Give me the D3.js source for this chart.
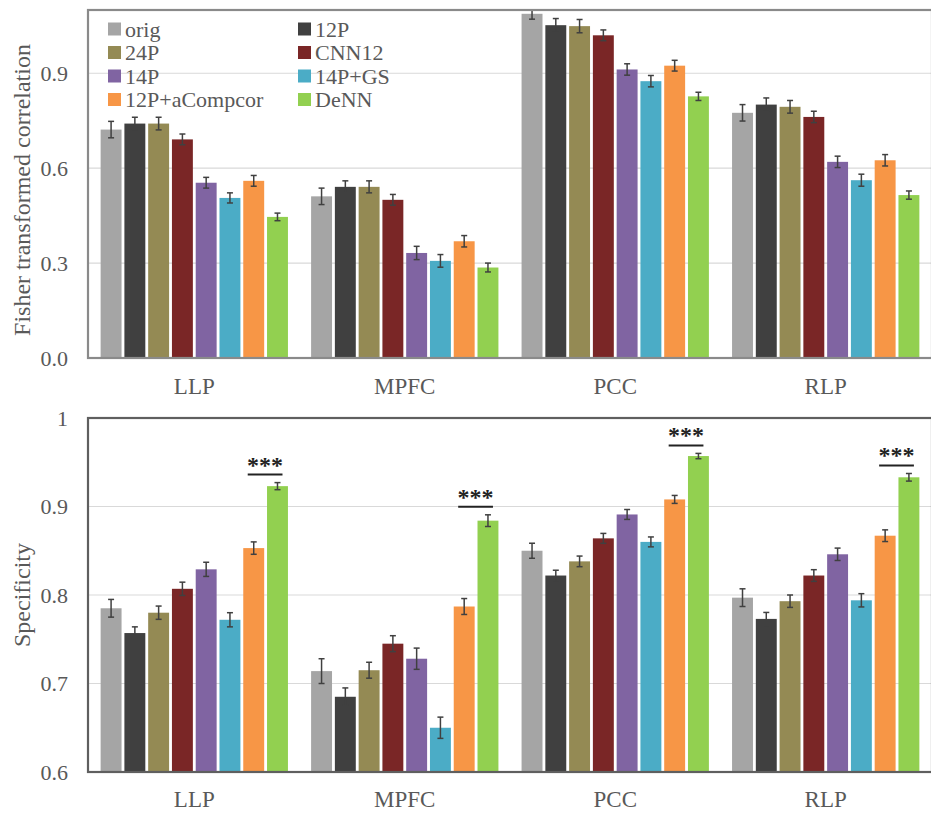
<!DOCTYPE html>
<html>
<head>
<meta charset="utf-8">
<script src="https://cdn.jsdelivr.net/npm/d3@7"></script>
<style>
  body { margin: 0; background: #fff; }
  svg { display: block; }
  text { font-family: "Liberation Serif", "Times New Roman", serif; fill: #595959; }
</style>
</head>
<body>
<svg id="chart" width="931" height="817"></svg>
<script>
const svg = d3.select("#chart");

// ---------- DATA ----------
const categories = ["LLP", "MPFC", "PCC", "RLP"];
const series = ["orig", "12P", "24P", "CNN12", "14P", "14P+GS", "12P+aCompcor", "DeNN"];
const colors = ["#a5a5a5", "#404040", "#948a54", "#7a2626", "#8064a2", "#4bacc6", "#f79646", "#92d050"];

// Fisher transformed correlation (rows = categories, cols = series)
const corrMean = [
  [0.722, 0.741, 0.741, 0.691, 0.554, 0.506, 0.560, 0.446],
  [0.511, 0.541, 0.541, 0.500, 0.332, 0.307, 0.369, 0.286],
  [1.088, 1.052, 1.049, 1.020, 0.912, 0.875, 0.924, 0.827],
  [0.775, 0.801, 0.794, 0.762, 0.620, 0.562, 0.625, 0.515]
];
const corrErr = [
  [0.026, 0.020, 0.020, 0.017, 0.017, 0.016, 0.017, 0.012],
  [0.026, 0.019, 0.019, 0.017, 0.021, 0.020, 0.018, 0.014],
  [0.017, 0.021, 0.021, 0.017, 0.018, 0.018, 0.017, 0.013],
  [0.026, 0.021, 0.020, 0.018, 0.018, 0.019, 0.018, 0.013]
];

// Specificity
const specMean = [
  [0.785, 0.757, 0.780, 0.807, 0.829, 0.772, 0.853, 0.923],
  [0.714, 0.685, 0.715, 0.745, 0.728, 0.650, 0.787, 0.884],
  [0.850, 0.822, 0.838, 0.864, 0.891, 0.860, 0.908, 0.957],
  [0.797, 0.773, 0.793, 0.822, 0.846, 0.794, 0.867, 0.933]
];
const specErr = [
  [0.010, 0.007, 0.0075, 0.0075, 0.008, 0.008, 0.007, 0.004],
  [0.014, 0.010, 0.009, 0.009, 0.012, 0.012, 0.009, 0.0066],
  [0.0085, 0.006, 0.006, 0.0056, 0.0056, 0.0056, 0.0045, 0.003],
  [0.010, 0.0073, 0.007, 0.0066, 0.007, 0.0075, 0.0066, 0.0043]
];

const corrTicks = [0, 0.3, 0.6, 0.9];
const corrTickLabels = ["0.0", "0.3", "0.6", "0.9"];
const specTicks = [0.6, 0.7, 0.8, 0.9, 1];
const specTickLabels = ["0.6", "0.7", "0.8", "0.9", "1"];

// significance: pairs compared in each region of the lower panel
const sigPairs = [["12P+aCompcor", "DeNN"], ["12P+aCompcor", "DeNN"], ["12P+aCompcor", "DeNN"], ["12P+aCompcor", "DeNN"]];
const sigLabels = ["***", "***", "***", "***"];

// ---------- SCALES ----------
const left = 88, right = 932;

const x0 = d3.scaleBand()
  .domain(categories)
  .range([left, right])
  .paddingInner(0.11)
  .paddingOuter(0.06);

const x1 = d3.scaleBand()
  .domain(series)
  .range([0, x0.bandwidth()])
  .paddingInner(0.12);

const color = d3.scaleOrdinal().domain(series).range(colors);

// ---------- PANEL ----------
function drawPanel(opts) {
  const y = d3.scaleLinear().domain(opts.domain).range([opts.bottom, opts.top]);
  const g = svg.append("g");

  // gridlines
  g.append("g")
    .selectAll("line")
    .data(opts.ticks.filter(t => t !== opts.domain[0] && t !== opts.domain[1]))
    .enter()
    .append("line")
    .attr("x1", left)
    .attr("x2", right)
    .attr("y1", d => y(d))
    .attr("y2", d => y(d))
    .attr("stroke", "#d9d9d9")
    .attr("stroke-width", 1.2);

  // bars
  const groups = g.append("g")
    .selectAll("g")
    .data(categories)
    .enter()
    .append("g")
    .attr("transform", d => `translate(${x0(d)},0)`);

  groups.selectAll("rect")
    .data((d, i) => series.map((s, j) => ({ s, v: opts.means[i][j], e: opts.errs[i][j] })))
    .enter()
    .append("rect")
    .attr("x", d => x1(d.s))
    .attr("width", x1.bandwidth())
    .attr("y", d => y(d.v))
    .attr("height", d => opts.bottom - y(d.v))
    .attr("fill", d => color(d.s));

  // error bars
  const eb = groups.selectAll("g.err")
    .data((d, i) => series.map((s, j) => ({ s, v: opts.means[i][j], e: opts.errs[i][j] })))
    .enter()
    .append("g")
    .attr("class", "err")
    .attr("stroke", "#404040")
    .attr("stroke-width", 1.5);

  const cx = d => x1(d.s) + x1.bandwidth() / 2;
  eb.append("line")
    .attr("x1", cx).attr("x2", cx)
    .attr("y1", d => Math.max(y(d.v + d.e), opts.top))
    .attr("y2", d => y(d.v - d.e));
  eb.append("line")
    .attr("x1", d => cx(d) - 3).attr("x2", d => cx(d) + 3)
    .attr("y1", d => y(d.v + d.e)).attr("y2", d => y(d.v + d.e))
    .attr("display", d => y(d.v + d.e) < opts.top ? "none" : null);
  eb.append("line")
    .attr("x1", d => cx(d) - 3).attr("x2", d => cx(d) + 3)
    .attr("y1", d => y(d.v - d.e)).attr("y2", d => y(d.v - d.e));

  // frame
  g.append("rect")
    .attr("x", left)
    .attr("y", opts.top)
    .attr("width", right - left)
    .attr("height", opts.bottom - opts.top)
    .attr("fill", "none")
    .attr("stroke", opts.frameColor)
    .attr("stroke-width", 2.2);

  // y axis labels
  const yAxis = d3.axisLeft(y)
    .tickValues(opts.ticks)
    .tickFormat((d, i) => opts.tickLabels[i])
    .tickSize(0)
    .tickPadding(20);

  g.append("g")
    .attr("transform", `translate(${left},0)`)
    .call(yAxis)
    .call(a => a.select(".domain").remove())
    .selectAll("text")
    .style("font-size", "22px")
    .style("font-family", "'Liberation Serif', 'Times New Roman', serif")
    .attr("fill", "#595959");

  // category labels
  const xAxis = d3.axisBottom(x0).tickSize(0).tickPadding(opts.catPad);
  g.append("g")
    .attr("transform", `translate(0,${opts.bottom})`)
    .call(xAxis)
    .call(a => a.select(".domain").remove())
    .selectAll("text")
    .style("font-size", "23px")
    .style("font-family", "'Liberation Serif', 'Times New Roman', serif")
    .attr("fill", "#595959");

  // y title
  g.append("text")
    .attr("transform", `translate(30,${(opts.top + opts.bottom) / 2 + opts.titleShift}) rotate(-90)`)
    .attr("text-anchor", "middle")
    .style("font-size", "24px")
    .text(opts.title);

  return { g, y };
}

// ---------- TOP PANEL ----------
drawPanel({
  top: 10, bottom: 358,
  domain: [0, 1.1],
  ticks: corrTicks, tickLabels: corrTickLabels,
  means: corrMean, errs: corrErr,
  title: "Fisher transformed correlation",
  titleShift: 6,
  catPad: 20,
  frameColor: "#8a8a8a"
});

// legend
const legend = svg.append("g").attr("class", "legend");
const legendItems = legend.selectAll("g")
  .data(series)
  .enter()
  .append("g")
  .attr("transform", (d, i) => `translate(${i % 2 === 0 ? 108 : 298},${29 + Math.floor(i / 2) * 23.5})`);

legendItems.append("rect")
  .attr("x", 0)
  .attr("y", -6.5)
  .attr("width", 13)
  .attr("height", 13)
  .attr("fill", d => color(d));

legendItems.append("text")
  .attr("x", 17)
  .attr("dy", "0.35em")
  .style("font-size", "22px")
  .text(d => d);

// ---------- BOTTOM PANEL ----------
const bottomPanel = drawPanel({
  top: 418, bottom: 772,
  domain: [0.6, 1],
  ticks: specTicks, tickLabels: specTickLabels,
  means: specMean, errs: specErr,
  title: "Specificity",
  titleShift: 0,
  catPad: 19,
  frameColor: "#5f5f5f"
});

// significance markers
const yS = bottomPanel.y;
const sig = bottomPanel.g.append("g")
  .selectAll("g")
  .data(categories)
  .enter()
  .append("g");

function sigGeom(d, i) {
  const [a, b] = sigPairs[i];
  const ia = series.indexOf(a), ib = series.indexOf(b);
  const xa = x0(d) + x1(a) + x1.bandwidth() / 2 - 6;
  const xb = x0(d) + x1(b) + x1.bandwidth() / 2 + 5;
  const topVal = Math.max(specMean[i][ia] + specErr[i][ia], specMean[i][ib] + specErr[i][ib]);
  return { xa, xb, ly: yS(topVal) - 8 };
}

sig.append("line")
  .attr("x1", (d, i) => sigGeom(d, i).xa)
  .attr("x2", (d, i) => sigGeom(d, i).xb)
  .attr("y1", (d, i) => sigGeom(d, i).ly)
  .attr("y2", (d, i) => sigGeom(d, i).ly)
  .attr("stroke", "#222")
  .attr("stroke-width", 2);

sig.append("text")
  .attr("x", (d, i) => (sigGeom(d, i).xa + sigGeom(d, i).xb) / 2)
  .attr("y", (d, i) => sigGeom(d, i).ly - 2)
  .attr("text-anchor", "middle")
  .style("font-size", "24px")
  .style("font-weight", "bold")
  .style("fill", "#222")
  .text((d, i) => sigLabels[i]);
</script>
</body>
</html>
